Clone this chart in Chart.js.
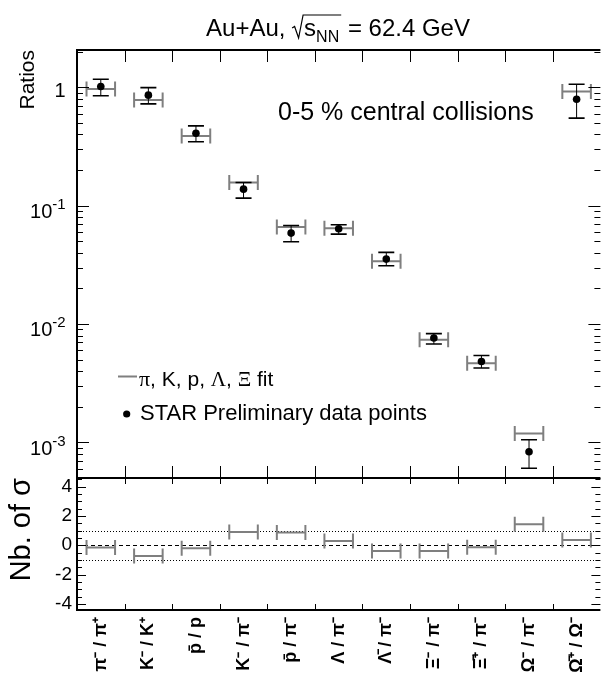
<!DOCTYPE html>
<html>
<head>
<meta charset="utf-8">
<script src="https://cdn.jsdelivr.net/npm/chart.js@4.4.1/dist/chart.umd.min.js"></script>
<style>
  html, body { margin: 0; padding: 0; background: #fff; }
  #wrap { width: 610px; height: 675px; }
</style>
</head>
<body>
<div id="wrap"><canvas id="c" width="610" height="675"></canvas></div>
<script>
// categories: particle ratios
const ratioLabels = ["π⁻ / π⁺", "K⁻ / K⁺", "p̄ / p", "K⁻ / π⁻", "p̄ / π⁻", "Λ / π⁻", "Λ̄ / π⁻", "Ξ⁻ / π⁻", "Ξ̄⁺ / π⁻", "Ω⁻ / π⁻", "Ω̄⁺ / Ω⁻"];

// STAR preliminary points (value, lower / upper end of the error bar)
const dataVal = [1.016, 0.86, 0.41, 0.138, 0.0587, 0.0638, 0.0354, 0.00762, 0.00483, 0.000834, 0.795];
const dataLo  = [0.85, 0.726, 0.347, 0.116, 0.0496, 0.0575, 0.0311, 0.00678, 0.00425, 0.000604, 0.55];
const dataHi  = [1.17, 0.996, 0.473, 0.157, 0.068, 0.069, 0.0403, 0.0083, 0.00543, 0.001054, 1.064];

// statistical model fit
const fitVal = [0.97, 0.784, 0.389, 0.157, 0.066, 0.0645, 0.0339, 0.00737, 0.00467, 0.001186, 0.922];

// deviation (data - fit) / sigma
const nSigma = [-0.15, -0.73, -0.2, 0.91, 0.87, 0.29, -0.39, -0.39, -0.14, 1.44, 0.36];

// axis ticks / reference lines
const logLabelExp = [0, -1, -2, -3];
const sigmaTicks = [-4, -2, 0, 2, 4];
const sigmaZero = [0];
const sigmaBand = [-1, 1];

const FONT = '"Liberation Sans", Arial, Helvetica, sans-serif';
const SERIF = '"Liberation Serif", "Times New Roman", serif';
const GRAY = '#7f7f7f';

/* ---- datasets built from the arrays ---- */
const dotData = dataVal.map((v, i) => ({ x: i + 0.5, y: v }));
const errData = [];
dataLo.forEach((lo, i) => {
  errData.push({ x: i + 0.5, y: lo }, { x: i + 0.5, y: dataHi[i] }, { x: i + 0.5, y: null });
});
const fitData = [];
fitVal.forEach((v, i) => {
  fitData.push({ x: i + 0.2, y: v }, { x: i + 0.8, y: v }, { x: i + 0.8, y: null });
});
const sigData = [];
nSigma.forEach((v, i) => {
  sigData.push({ x: i + 0.2, y: v }, { x: i + 0.8, y: v }, { x: i + 0.8, y: null });
});

function seg(ctx, x1, y1, x2, y2) {
  ctx.beginPath(); ctx.moveTo(x1, y1); ctx.lineTo(x2, y2); ctx.stroke();
}

function drawRuns(ctx, runs, x, y) {
  runs.forEach(r => {
    ctx.font = r.font;
    ctx.fillText(r.t, x, y + (r.dy || 0));
    x += ctx.measureText(r.t).width;
  });
  return x;
}

/* ---- ROOT-like frame, ticks and texts ---- */
const overlay = {
  id: 'overlay',
  beforeDatasetsDraw(chart) {
    const { ctx, chartArea: a, scales: { yBot } } = chart;
    ctx.save();
    ctx.strokeStyle = '#000';
    ctx.lineWidth = 1;
    ctx.setLineDash([4, 3]);
    sigmaZero.forEach(v => {
      const y = Math.round(yBot.getPixelForValue(v)) + 0.5;
      seg(ctx, a.left, y, a.right, y);
    });
    ctx.setLineDash([1, 2]);
    sigmaBand.forEach(v => {
      const y = Math.round(yBot.getPixelForValue(v)) + 0.5;
      seg(ctx, a.left, y, a.right, y);
    });
    ctx.restore();
  },
  afterDraw(chart) {
    const { ctx, scales: { x, yTop, yBot } } = chart;
    const L = x.left, R = x.right;
    ctx.save();
    ctx.strokeStyle = '#000';
    ctx.lineWidth = 1;

    // x ticks on bin edges
    for (let i = 1; i < ratioLabels.length; i++) {
      const px = Math.round(x.getPixelForValue(i)) + 0.5;
      seg(ctx, px, yTop.top, px, yTop.top + 12);
      seg(ctx, px, yTop.bottom, px, yTop.bottom - 12);
      seg(ctx, px, yBot.top, px, yBot.top + 6);
      seg(ctx, px, yBot.bottom, px, yBot.bottom - 6);
    }
    // log ticks
    for (let k = -4; k <= 0; k++) {
      for (let m = 1; m <= 9; m++) {
        const v = m * Math.pow(10, k);
        if (v < yTop.min || v > yTop.max) continue;
        const py = Math.round(yTop.getPixelForValue(v)) + 0.5;
        const len = m === 1 ? 12 : 6;
        seg(ctx, L, py, L + len, py);
        seg(ctx, R, py, R - len, py);
      }
    }
    // sigma ticks
    for (let j = -10; j <= 10; j++) {
      const v = j / 2;
      if (v < yBot.min || v > yBot.max) continue;
      const py = Math.round(yBot.getPixelForValue(v)) + 0.5;
      const len = j % 4 === 0 ? 9 : 5;
      seg(ctx, L, py, L + len, py);
      seg(ctx, R, py, R - len, py);
    }

    // frame
    ctx.lineWidth = 2;
    seg(ctx, L, yTop.top, R, yTop.top);
    seg(ctx, L, yTop.top - 1, L, yBot.bottom + 1);
    seg(ctx, L, yTop.bottom, R, yTop.bottom);
    seg(ctx, L, yBot.bottom, R, yBot.bottom);

    ctx.fillStyle = '#000';
    ctx.textBaseline = 'alphabetic';

    // log axis labels 1, 10^-1 ...
    const xr = 65.6;
    logLabelExp.forEach(k => {
      const y = yTop.getPixelForValue(Math.pow(10, k));
      ctx.textAlign = 'right';
      if (k === 0) {
        ctx.font = `20px ${FONT}`;
        ctx.fillText('1', xr, y + 9.2);
      } else {
        const sup = String(k);
        ctx.font = `15px ${FONT}`;
        const ws = ctx.measureText(sup).width;
        ctx.fillText(sup, xr, y + 3.3);
        ctx.font = `20px ${FONT}`;
        ctx.fillText('10', xr - ws, y + 12.3);
      }
    });
    ctx.textAlign = 'left';

    // title
    const tFont = `24px ${FONT}`, sFont = `16px ${FONT}`;
    ctx.font = tFont;
    const w1 = ctx.measureText('Au+Au, ').width;
    const wS = ctx.measureText('s').width;
    const w3 = ctx.measureText(' = 62.4 GeV').width;
    ctx.font = sFont;
    const wNN = ctx.measureText('NN').width;
    const radW = 12;
    const total = w1 + radW + wS + wNN + 2 + w3;
    const by = 36;
    let tx = 338 - total / 2;
    ctx.font = tFont;
    ctx.fillText('Au+Au, ', tx, by);
    tx += w1;
    ctx.lineWidth = 1.2;
    ctx.beginPath();
    ctx.moveTo(tx, by - 8);
    ctx.lineTo(tx + 2.5, by - 9.5);
    ctx.lineTo(tx + 6.5, by + 2);
    ctx.lineTo(tx + 11, by - 21);
    ctx.lineTo(tx + radW + wS + wNN + 2, by - 21);
    ctx.stroke();
    tx += radW;
    ctx.fillText('s', tx, by);
    tx += wS;
    ctx.font = sFont;
    ctx.fillText('NN', tx, by + 6);
    tx += wNN + 2;
    ctx.font = tFont;
    ctx.fillText(' = 62.4 GeV', tx, by);

    // centrality text
    ctx.font = `25px ${FONT}`;
    ctx.fillText('0-5 % central collisions', 278, 120);

    // legend
    ctx.strokeStyle = GRAY;
    ctx.lineWidth = 2;
    seg(ctx, 118, 376.5, 137, 376.5);
    drawRuns(ctx, [
      { t: 'π', font: `22px ${SERIF}` },
      { t: ', K, p, ', font: `21px ${FONT}` },
      { t: 'Λ', font: `21px ${SERIF}` },
      { t: ', ', font: `21px ${FONT}` },
      { t: 'Ξ', font: `21px ${SERIF}` },
      { t: ' fit', font: `21px ${FONT}` }
    ], 139, 385.5);
    ctx.beginPath();
    ctx.arc(126.7, 414, 3.6, 0, Math.PI * 2);
    ctx.fill();
    ctx.font = `22px ${FONT}`;
    ctx.fillText('STAR Preliminary data points', 140, 420);

    ctx.restore();
  }
};

new Chart(document.getElementById('c'), {
  type: 'line',
  data: {
    datasets: [
      {
        label: 'STAR Preliminary data points',
        data: dotData,
        yAxisID: 'yTop',
        showLine: false,
        pointRadius: 3.8,
        pointBackgroundColor: '#000',
        pointBorderWidth: 0
      },
      {
        label: 'errors',
        data: errData,
        yAxisID: 'yTop',
        borderColor: '#000',
        borderWidth: 1,
        spanGaps: false,
        pointStyle: 'line',
        pointRadius: 8,
        pointBorderWidth: 1.6,
        pointBorderColor: '#000'
      },
      {
        label: 'π, K, p, Λ, Ξ fit',
        data: fitData,
        yAxisID: 'yTop',
        borderColor: GRAY,
        borderWidth: 2,
        spanGaps: false,
        pointStyle: 'line',
        pointRotation: 90,
        pointRadius: 7.5,
        pointBorderWidth: 2,
        pointBorderColor: GRAY
      },
      {
        label: 'Nb. of σ',
        data: sigData,
        yAxisID: 'yBot',
        borderColor: GRAY,
        borderWidth: 2,
        spanGaps: false,
        pointStyle: 'line',
        pointRotation: 90,
        pointRadius: 7.5,
        pointBorderWidth: 2,
        pointBorderColor: GRAY
      }
    ]
  },
  options: {
    responsive: false,
    animation: false,
    devicePixelRatio: 1,
    events: [],
    layout: { padding: { top: 50, right: 0, bottom: 0, left: 0 } },
    plugins: { legend: { display: false }, tooltip: { enabled: false } },
    scales: {
      x: {
        type: 'linear',
        position: 'bottom',
        min: 0,
        max: ratioLabels.length,
        afterBuildTicks(s) { s.ticks = ratioLabels.map((_, i) => ({ value: i + 0.5 })); },
        afterFit(s) { s.height = 65; },
        grid: { display: false, drawTicks: false },
        border: { display: false },
        ticks: {
          autoSkip: false,
          minRotation: 90,
          maxRotation: 90,
          padding: 7,
          color: '#000',
          font: { family: FONT, size: 18, weight: 'bold' },
          callback: (v, i) => ratioLabels[i]
        }
      },
      yBot: {
        type: 'linear',
        position: 'left',
        stack: 'panels',
        stackWeight: 132,
        min: -4.42,
        max: 4.59,
        afterBuildTicks(s) { s.ticks = sigmaTicks.map(v => ({ value: v })); },
        afterFit(s) { s.width = 77; },
        grid: { display: false, drawTicks: false },
        border: { display: false },
        ticks: { autoSkip: false, color: '#000', padding: 5, font: { family: FONT, size: 19 } },
        title: {
          display: true, text: 'Nb. of σ', align: 'end', color: '#000',
          font: { family: FONT, size: 29 }, padding: { top: 5 }
        }
      },
      yTop: {
        type: 'logarithmic',
        position: 'left',
        stack: 'panels',
        stackWeight: 428,
        min: 5e-4,
        max: 2.07,
        afterFit(s) { s.width = 77; },
        grid: { display: false, drawTicks: false },
        border: { display: false },
        ticks: { display: false },
        title: {
          display: true, text: 'Ratios', align: 'end', color: '#000',
          font: { family: FONT, size: 21 }, padding: { top: 16 }
        }
      }
    }
  },
  plugins: [overlay]
});
</script>
</body>
</html>
